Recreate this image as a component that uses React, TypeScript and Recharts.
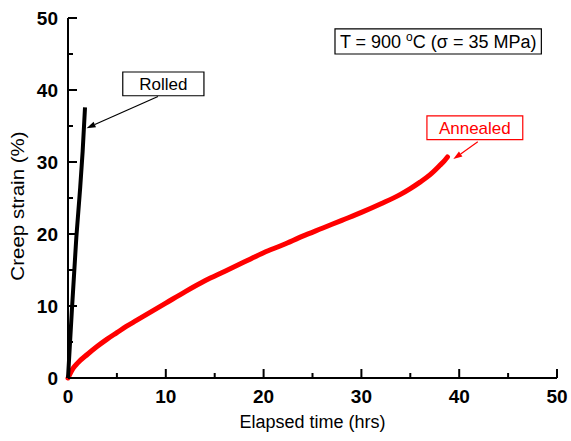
import React from 'react';
import {
  LineChart,
  Line,
  XAxis,
  YAxis,
  ReferenceArea,
  ReferenceLine,
} from 'recharts';

// elapsed time (hrs) vs creep strain (%)
const rolledTime = [0, 0.4, 0.85, 1.25, 1.5, 1.74];
const rolledStrain = [0, 9.5, 19.5, 26.5, 31.5, 37.6];

const annealedTime = [
  0, 0.5, 1, 2, 3, 4, 5, 6, 7, 8, 10, 12, 14, 16, 18, 20, 22, 24, 26, 28, 30,
  32, 34, 35, 36, 37, 38, 38.5, 38.8,
];
const annealedStrain = [
  0, 1.3, 2.1, 3.3, 4.4, 5.4, 6.3, 7.2, 8.0, 8.8, 10.4, 12.0, 13.5, 14.8, 16.1,
  17.4, 18.5, 19.7, 20.8, 21.9, 23.0, 24.2, 25.5, 26.3, 27.2, 28.2, 29.5, 30.2,
  30.7,
];

const xTicks = [0, 5, 10, 15, 20, 25, 30, 35, 40, 45, 50];
const yTicks = [0, 5, 10, 15, 20, 25, 30, 35, 40, 45, 50];

const rolled = rolledTime.map((t, i) => ({ t, s: rolledStrain[i] }));
const annealed = annealedTime.map((t, i) => ({ t, s: annealedStrain[i] }));

const FONT = '"Liberation Sans", Arial, sans-serif';

const XTick = ({ x, y, payload }: any) => {
  const major = payload.value % 10 === 0;
  return (
    <g>
      <line x1={x} y1={y} x2={x} y2={y - (major ? 9 : 5)} stroke="#000" strokeWidth={2} />
      {major && (
        <text x={x} y={y + 25} textAnchor="middle" fontSize={19} fontWeight="bold" fontFamily={FONT} fill="#000">
          {payload.value}
        </text>
      )}
    </g>
  );
};

const YTick = ({ x, y, payload }: any) => {
  const major = payload.value % 10 === 0;
  return (
    <g>
      <line x1={x} y1={y} x2={x + (major ? 9 : 5)} y2={y} stroke="#000" strokeWidth={2} />
      {major && (
        <text x={x - 10} y={y} dy="0.35em" textAnchor="end" fontSize={19} fontWeight="bold" fontFamily={FONT} fill="#000">
          {payload.value}
        </text>
      )}
    </g>
  );
};

const YTitle = (props: any) => {
  const { viewBox } = props;
  const cx = viewBox.x + 10;
  const cy = viewBox.y + viewBox.height / 2 + 8;
  return (
    <text
      transform={`translate(${cx},${cy}) rotate(-90) scale(1.14,1)`}
      dy="0.35em"
      textAnchor="middle"
      fontSize={18}
      fontFamily={FONT}
      fill="#000"
    >
      Creep strain (%)
    </text>
  );
};

const arrow = (color: string) => (props: any) => {
  const { x1, y1, x2, y2 } = props;
  const a = Math.atan2(y2 - y1, x2 - x1);
  const len = 9;
  const w = 3;
  const bx = x2 - len * Math.cos(a);
  const by = y2 - len * Math.sin(a);
  const px = -Math.sin(a) * w;
  const py = Math.cos(a) * w;
  return (
    <g>
      <line x1={x1} y1={y1} x2={bx} y2={by} stroke={color} strokeWidth={1.2} />
      <polygon points={`${x2},${y2} ${bx + px},${by + py} ${bx - px},${by - py}`} fill={color} />
    </g>
  );
};

const boxText = (text: string, color: string) => (props: any) => {
  const { viewBox } = props;
  return (
    <text
      x={viewBox.x + viewBox.width / 2}
      y={viewBox.y + viewBox.height / 2}
      dy="0.35em"
      textAnchor="middle"
      fontSize={17}
      fontFamily={FONT}
      fill={color}
    >
      {text}
    </text>
  );
};

const conditionText = (props: any) => {
  const { viewBox } = props;
  return (
    <text
      x={viewBox.x + viewBox.width / 2}
      y={viewBox.y + viewBox.height / 2}
      dy="0.35em"
      textAnchor="middle"
      fontSize={18}
      fontFamily={FONT}
      fill="#000"
    >
      T = 900 <tspan dy={-7} fontSize={12}>o</tspan>
      <tspan dy={7}>C (σ = 35 MPa)</tspan>
    </text>
  );
};

export default function App() {
  return (
    <div style={{ position: 'absolute', left: 0, top: 0, background: '#fff' }}>
      <LineChart width={571} height={441} margin={{ top: 18, right: 14, bottom: 13, left: 8 }}>
        <XAxis
          dataKey="t"
          type="number"
          domain={[0, 50]}
          ticks={xTicks}
          tick={<XTick />}
          tickLine={false}
          tickSize={0}
          tickMargin={0}
          height={50}
          axisLine={{ stroke: '#000', strokeWidth: 2 }}
          label={{
            value: 'Elapsed time (hrs)',
            position: 'insideBottom',
            offset: 0,
            fontSize: 18,
            fontFamily: FONT,
            fill: '#000',
          }}
        />
        <XAxis
          xAxisId="top"
          orientation="top"
          type="number"
          domain={[0, 50]}
          tick={false}
          tickLine={false}
          height={0}
          axisLine={{ stroke: '#000', strokeWidth: 2 }}
        />
        <YAxis
          type="number"
          domain={[0, 50]}
          ticks={yTicks}
          tick={<YTick />}
          tickLine={false}
          tickSize={0}
          tickMargin={0}
          width={60}
          axisLine={{ stroke: '#000', strokeWidth: 2 }}
          label={YTitle}
        />
        <YAxis
          yAxisId="right"
          orientation="right"
          type="number"
          domain={[0, 50]}
          tick={false}
          tickLine={false}
          width={0}
          axisLine={{ stroke: '#000', strokeWidth: 2 }}
        />

        <ReferenceArea x1={27.3} x2={48.4} y1={45.0} y2={48.5} fill="#fff" fillOpacity={1} stroke="#000" strokeWidth={1.2} label={conditionText} />
        <ReferenceArea x1={5.6} x2={13.9} y1={39.2} y2={42.5} fill="#fff" fillOpacity={1} stroke="#000" strokeWidth={1.2} label={boxText('Rolled', '#000')} />
        <ReferenceArea x1={36.7} x2={46.5} y1={33.1} y2={36.4} fill="#fff" fillOpacity={1} stroke="#ff0000" strokeWidth={1.2} label={boxText('Annealed', '#ff0000')} />
        <ReferenceLine segment={[{ x: 9.2, y: 39.1 }, { x: 1.9, y: 34.7 }]} shape={arrow('#000')} />
        <ReferenceLine segment={[{ x: 41.9, y: 32.8 }, { x: 39.4, y: 30.4 }]} shape={arrow('#ff0000')} />

        <Line data={annealed} dataKey="s" type="monotone" stroke="#ff0000" strokeWidth={5} strokeLinecap="round" dot={false} isAnimationActive={false} />
        <Line data={rolled} dataKey="s" type="linear" stroke="#000" strokeWidth={4} dot={false} isAnimationActive={false} />
      </LineChart>
    </div>
  );
}
